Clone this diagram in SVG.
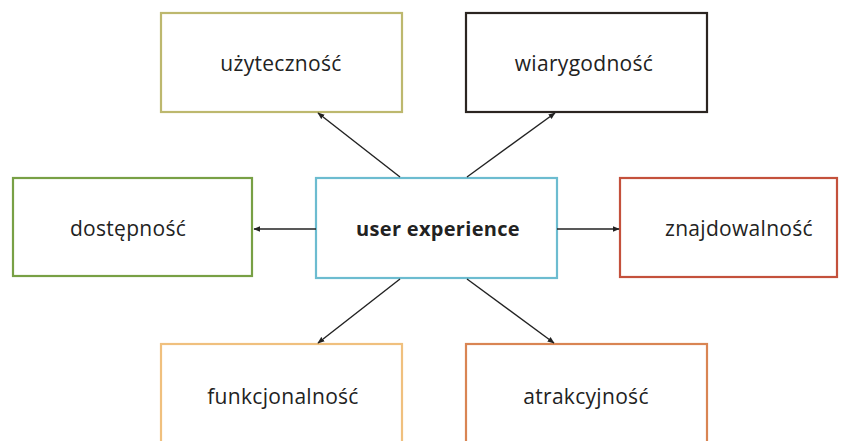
<svg xmlns="http://www.w3.org/2000/svg" width="850" height="441" viewBox="0 0 850 441">
<style>
rect.box{fill:#ffffff;stroke-width:2.2}
text{font-family:"Open Sans","Noto Sans","DejaVu Sans",sans-serif;font-size:21px;letter-spacing:0.3px;fill:#222;text-anchor:middle;dominant-baseline:central}
text.main{font-size:20px;font-weight:bold}
.conn line{stroke:#222;stroke-width:1.4;marker-end:url(#ah)}
</style>
<defs>
<marker id="ah" viewBox="0 0 10 10" refX="9" refY="5" markerWidth="7" markerHeight="7" markerUnits="userSpaceOnUse" orient="auto">
<path d="M0,1 L10,5 L0,9 z" fill="#222"/>
</marker>
</defs>
<rect width="850" height="441" fill="#ffffff"/>
<g id="uzytecznosc"><rect class="box" x="161" y="13" width="241" height="99" stroke="#bdb86e"/><text x="281" y="62.5">użyteczność</text></g>
<g id="wiarygodnosc"><rect class="box" x="466" y="13" width="241" height="99" stroke="#2b2521"/><text x="584" y="62.5">wiarygodność</text></g>
<g id="dostepnosc"><rect class="box" x="13" y="178" width="239" height="98" stroke="#78a045"/><text x="128" y="228">dostępność</text></g>
<g id="user-experience"><rect class="box" x="316" y="178" width="241" height="100" stroke="#6cbcd0"/><text class="main" x="438" y="228">user experience</text></g>
<g id="znajdowalnosc"><rect class="box" x="620" y="178" width="217" height="99" stroke="#c4513c"/><text x="739" y="228">znajdowalność</text></g>
<g id="funkcjonalnosc"><rect class="box" x="161" y="344" width="241" height="100" stroke="#f0c07e"/><text x="283" y="396">funkcjonalność</text></g>
<g id="atrakcyjnosc"><rect class="box" x="466" y="344" width="241" height="100" stroke="#d98553"/><text x="586" y="396">atrakcyjność</text></g>
<g class="conn" id="connectors">
<line x1="400" y1="177" x2="318" y2="113"/>
<line x1="467" y1="177" x2="555" y2="113"/>
<line x1="316" y1="229" x2="254" y2="229"/>
<line x1="557" y1="229" x2="619" y2="229"/>
<line x1="400" y1="279" x2="318" y2="343"/>
<line x1="467" y1="279" x2="554" y2="343"/>
</g>
</svg>
